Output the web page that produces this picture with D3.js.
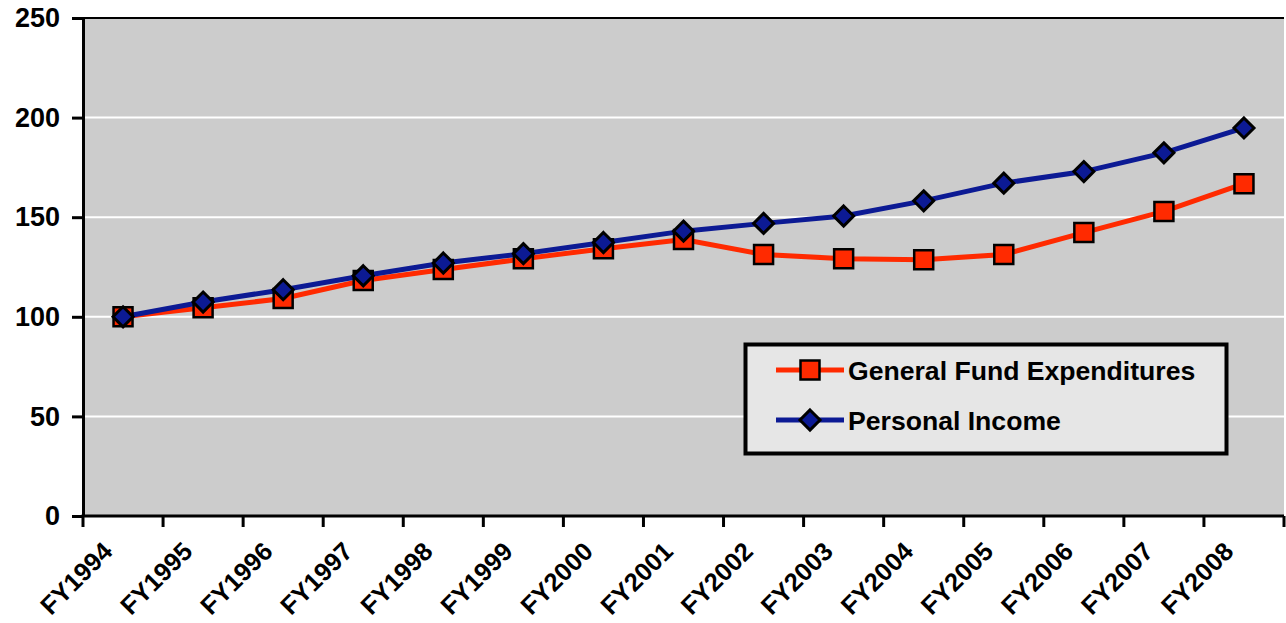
<!DOCTYPE html>
<html>
<head>
<meta charset="utf-8">
<script src="https://cdn.jsdelivr.net/npm/d3@7"></script>
<style>
  html, body { margin: 0; padding: 0; background: #ffffff; }
  svg { display: block; }
  text { font-family: "Liberation Sans", Arial, sans-serif; font-weight: bold; fill: #000; }
</style>
</head>
<body>
<svg id="chart" width="1286" height="623"></svg>
<script>
// Fiscal years on the category axis
const years = ["FY1994", "FY1995", "FY1996", "FY1997", "FY1998", "FY1999", "FY2000",
               "FY2001", "FY2002", "FY2003", "FY2004", "FY2005", "FY2006", "FY2007", "FY2008"];

// Index values, FY1994 = 100
const generalFund = [100, 104.5, 109.2, 118.2, 123.7, 129.1, 134.2, 138.8,
                     131.3, 129.2, 128.7, 131.3, 142.3, 152.9, 166.8];
const personalIncome = [100, 107.4, 113.6, 120.6, 127.0, 131.7, 137.3, 143.0,
                        146.9, 150.6, 158.2, 167.1, 172.9, 182.3, 194.8];

const yTicks = [0, 50, 100, 150, 200, 250];

const seriesNames = ["General Fund Expenditures", "Personal Income"];
const seriesColors = ["#ff2a00", "#0c1a94"];

const svg = d3.select("#chart");
const plot = { left: 83, right: 1284, top: 18, bottom: 516 };

const x = d3.scaleBand().domain(years).range([plot.left, plot.right]).padding(0);
const y = d3.scaleLinear().domain([0, 250]).range([plot.bottom, plot.top]);
const cx = d => x(d) + x.bandwidth() / 2;

// Plot area background
svg.append("rect")
  .attr("x", plot.left).attr("y", plot.top)
  .attr("width", plot.right - plot.left).attr("height", plot.bottom - plot.top)
  .attr("fill", "#cccccc");

// Horizontal gridlines
svg.append("g").selectAll("line")
  .data(yTicks.filter(t => t > 0 && t < 250))
  .join("line")
  .attr("x1", plot.left).attr("x2", plot.right)
  .attr("y1", d => y(d)).attr("y2", d => y(d))
  .attr("stroke", "#ffffff").attr("stroke-width", 2);

// Top border of plot area
svg.append("line")
  .attr("x1", plot.left).attr("x2", plot.right)
  .attr("y1", y(250)).attr("y2", y(250))
  .attr("stroke", "#000").attr("stroke-width", 2);

// Y axis
const yAxis = svg.append("g")
  .attr("transform", `translate(${plot.left},0)`)
  .call(d3.axisLeft(y).tickValues(yTicks).tickSize(11).tickPadding(12).tickSizeOuter(0));
yAxis.select(".domain").attr("stroke", "#000").attr("stroke-width", 3);
yAxis.selectAll(".tick line").attr("stroke", "#000").attr("stroke-width", 3);
yAxis.selectAll(".tick text")
  .attr("font-size", 27).attr("font-family", "Liberation Sans, Arial, sans-serif")
  .attr("font-weight", "bold").attr("fill", "#000");

// X axis: labels from the band scale, ticks at band edges
const xAxis = svg.append("g")
  .attr("transform", `translate(0,${plot.bottom})`)
  .call(d3.axisBottom(x).tickSize(0).tickPadding(0));
xAxis.select(".domain").remove();
xAxis.selectAll(".tick text")
  .attr("font-size", 25.5).attr("font-family", "Liberation Sans, Arial, sans-serif")
  .attr("font-weight", "bold").attr("fill", "#000")
  .attr("text-anchor", "end")
  .attr("dy", null)
  .attr("transform", "translate(-9,37) rotate(-45)");

const edges = years.map(d => x(d)).concat([x.range()[1]]);
svg.append("g").selectAll("line")
  .data(edges)
  .join("line")
  .attr("x1", d => d).attr("x2", d => d)
  .attr("y1", plot.bottom).attr("y2", plot.bottom + 11)
  .attr("stroke", "#000").attr("stroke-width", 3);

svg.append("line")
  .attr("x1", plot.left - 1.5).attr("x2", plot.right)
  .attr("y1", plot.bottom).attr("y2", plot.bottom)
  .attr("stroke", "#000").attr("stroke-width", 3);

// Series lines and markers
const line = d3.line().x(d => cx(d.year)).y(d => y(d.value));
const series = [generalFund, personalIncome].map((vals, i) => ({
  name: seriesNames[i],
  color: seriesColors[i],
  points: years.map((yr, j) => ({ year: yr, value: vals[j] }))
}));

const squareSym = d3.symbol().type(d3.symbolSquare).size(19 * 19);
const diamondSym = d3.symbol().type(d3.symbolDiamond2).size(16 * 16);

series.forEach((s, i) => {
  svg.append("path")
    .datum(s.points)
    .attr("d", line)
    .attr("fill", "none")
    .attr("stroke", s.color)
    .attr("stroke-width", 5);
});
series.forEach((s, i) => {
  svg.append("g").selectAll("path")
    .data(s.points)
    .join("path")
    .attr("transform", d => `translate(${cx(d.year)},${y(d.value)})`)
    .attr("d", i === 0 ? squareSym : diamondSym)
    .attr("fill", s.color)
    .attr("stroke", "#000")
    .attr("stroke-width", i === 0 ? 2.5 : 3)
    .attr("stroke-linejoin", "miter");
});

// Legend
const legend = svg.append("g");
legend.append("rect")
  .attr("x", 745.5).attr("y", 344.5).attr("width", 481).attr("height", 109)
  .attr("fill", "#e6e6e6").attr("stroke", "#000").attr("stroke-width", 4);

series.forEach((s, i) => {
  const ly = 370 + i * 50;
  legend.append("line")
    .attr("x1", 776).attr("x2", 844).attr("y1", ly).attr("y2", ly)
    .attr("stroke", s.color).attr("stroke-width", 5);
  legend.append("path")
    .attr("transform", `translate(810,${ly})`)
    .attr("d", i === 0 ? squareSym : diamondSym)
    .attr("fill", s.color).attr("stroke", "#000")
    .attr("stroke-width", i === 0 ? 2.5 : 3);
  legend.append("text")
    .attr("x", 848).attr("y", ly + 9.5)
    .attr("font-size", 26.6)
    .text(s.name);
});
</script>
</body>
</html>
